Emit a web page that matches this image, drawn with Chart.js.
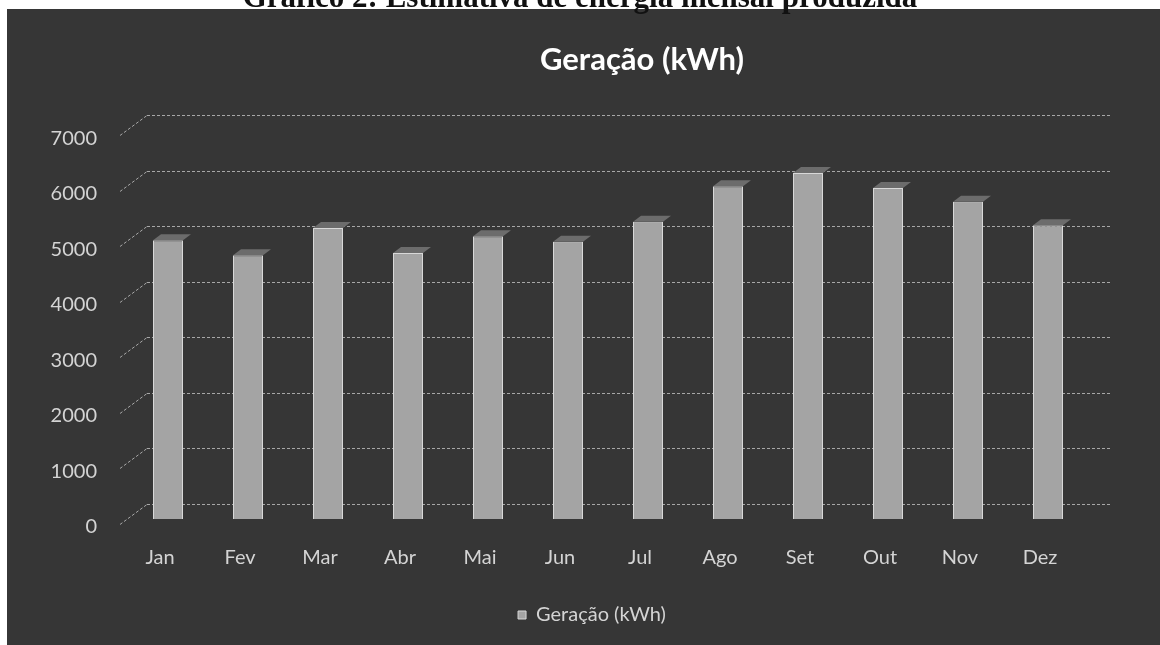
<!DOCTYPE html>
<html><head><meta charset="utf-8">
<script src="https://cdn.jsdelivr.net/npm/chart.js@4.4.1/dist/chart.umd.min.js"></script>
<style>
html,body{margin:0;padding:0;background:#fff;}
#page{position:relative;width:1160px;height:645px;overflow:hidden;background:#fff;}
#panel{position:absolute;left:7px;top:9px;width:1153px;height:636px;background:#363636;}
#c{position:absolute;left:0;top:0;}
#cap{position:absolute;left:0;top:-19px;width:1160px;text-align:center;font:bold 31px "Liberation Serif",serif;line-height:31px;color:#111;white-space:nowrap;}
</style></head><body>
<div id="page"><div id="panel"></div><canvas id="c" width="1160" height="645"></canvas><div id="cap">Gráfico 2: Estimativa de energia mensal produzida</div></div>
<script>
const categories = ['Jan','Fev','Mar','Abr','Mai','Jun','Jul','Ago','Set','Out','Nov','Dez'];
const geracao = [5020, 4750, 5240, 4790, 5090, 4990, 5350, 5990, 6230, 5960, 5710, 5290];
const yTickValues = [0, 1000, 2000, 3000, 4000, 5000, 6000, 7000];
const chartTitle = 'Geração (kWh)';
const seriesName = 'Geração (kWh)';

const LABEL = '#d4d4d4';
const FONT = 'Lato, "Open Sans", sans-serif';

const backWall = {
  id: 'backWall',
  beforeDatasetsDraw(chart) {
    const {ctx, chartArea: a, scales: {y}} = chart;
    ctx.save();
    ctx.strokeStyle = 'rgba(205,205,205,0.75)';
    ctx.lineWidth = 1;
    ctx.setLineDash([3, 2]);
    y.ticks.forEach(t => {
      const py = Math.round(y.getPixelForValue(t.value)) - 15 + 0.5;
      ctx.beginPath(); ctx.moveTo(a.left + 19, py); ctx.lineTo(a.right + 22, py); ctx.stroke();
      ctx.beginPath(); ctx.moveTo(a.left - 8, py + 20); ctx.lineTo(a.left + 19, py); ctx.stroke();
    });
    ctx.restore();
  }
};

const barCaps = {
  id: 'barCaps',
  afterDatasetsDraw(chart) {
    const {ctx} = chart;
    const meta = chart.getDatasetMeta(0);
    ctx.save();
    ctx.fillStyle = '#6c6c6c';
    meta.data.forEach(el => {
      const l = el.x - el.width / 2, r = el.x + el.width / 2, t = el.y;
      ctx.beginPath();
      ctx.moveTo(l, t); ctx.lineTo(r, t); ctx.lineTo(r + 8, t - 6); ctx.lineTo(l + 8, t - 6);
      ctx.closePath(); ctx.fill();
    });
    ctx.restore();
  }
};

const shiftBlocks = {
  id: 'shiftBlocks',
  afterLayout(chart) {
    const t = chart.titleBlock;
    if (t) { const c = (t.left + t.right) / 2; t.left += 2 * (642 - c); }
    const l = chart.legend;
    if (l) { const c = (l.left + l.right) / 2; l.left += 2 * (592 - c); }
  }
};

new Chart(document.getElementById('c'), {
  type: 'bar',
  data: {
    labels: categories,
    datasets: [{
      label: seriesName,
      data: geracao,
      backgroundColor: '#a4a4a4',
      borderColor: '#d8d8d8',
      borderWidth: 1,
      barPercentage: 0.75,
      categoryPercentage: 0.5
    }]
  },
  options: {
    responsive: false,
    animation: false,
    layout: {padding: {left: 0, right: 72, top: 0, bottom: 10}},
    plugins: {
      title: {
        display: true, text: chartTitle, color: '#ffffff',
        font: {family: FONT, size: 31, weight: 'bold'},
        padding: {top: 41, bottom: 52}
      },
      legend: {
        position: 'bottom',
        labels: {color: LABEL, font: {family: FONT, size: 20}, boxWidth: 8, boxHeight: 8, padding: 10}
      },
      tooltip: {enabled: false}
    },
    scales: {
      x: {
        grid: {display: false, drawTicks: false},
        border: {display: false},
        ticks: {color: LABEL, font: {family: FONT, size: 20}, padding: 27, labelOffset: -8, maxRotation: 0},
        afterFit(s) { s.height = 76; }
      },
      y: {
        min: 0, max: 7000,
        afterBuildTicks(s) { s.ticks = yTickValues.map(v => ({value: v})); },
        grid: {display: false, drawTicks: false},
        border: {display: false},
        ticks: {color: LABEL, font: {family: FONT, size: 20}, padding: 31, labelOffset: 8,
          callback: v => String(v)},
        afterFit(s) { s.width = 128; }
      }
    }
  },
  plugins: [backWall, barCaps, shiftBlocks]
});
</script>
</body></html>
